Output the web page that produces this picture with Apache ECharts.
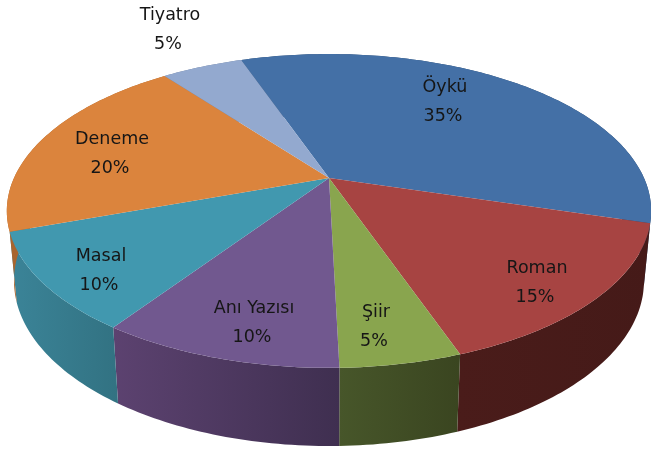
<!DOCTYPE html>
<html>
<head>
<meta charset="utf-8">
<style>html,body{margin:0;padding:0;background:#fff}#c{width:651px;height:451px}</style>
<script src="https://cdn.jsdelivr.net/npm/echarts@6/dist/echarts.min.js"></script>
</head>
<body>
<div id="c"></div>
<script>
const categories = ['Öykü', 'Roman', 'Şiir', 'Anı Yazısı', 'Masal', 'Deneme', 'Tiyatro'];
const shares = [35, 15, 5, 10, 10, 20, 5];
const topColors = ['#4470A6', '#A74442', '#89A54E', '#71588F', '#4198AF', '#DB843D', '#93A9CF'];
const wallLeft = ['#2c4a6e', '#4a1c1a', '#47562a', '#5c4270', '#3b8498', '#a8652e', '#6d7f9c'];
const wallRight = ['#2c4a6e', '#451a18', '#3a4520', '#3f2f50', '#327282', '#a8652e', '#6d7f9c'];
const labelAnchors = [[443, 116], [535, 297], [374, 341], [252, 337], [99, 285], [110, 168], [168, 44]];

const CX = 329, P = 0.21, START = -19.5;
const TOP = { a: 315, b: 150, cy: 178 };
const BASE = { a: 308, b: 158, cy: 246 };
const total = shares.reduce((s, v) => s + v, 0);

function project(disc, deg, r) {
  const t = deg * Math.PI / 180;
  const X = r * Math.sin(t), Y = -r * Math.cos(t);
  const d = 1 - P * Y;
  return [CX + disc.a * X / d, disc.cy + disc.b * Y / d];
}
function arc(disc, from, to) {
  const n = Math.max(2, Math.ceil(Math.abs(to - from)));
  const pts = [];
  for (let i = 0; i <= n; i++) pts.push(project(disc, from + (to - from) * i / n, 1));
  return pts;
}
function renderSlice(params, api) {
  const i = params.dataIndex;
  let before = 0;
  for (let k = 0; k < i; k++) before += shares[k];
  const from = START + before / total * 360;
  const to = from + api.value(0) / total * 360;
  const topArc = arc(TOP, from, to);
  const baseArc = arc(BASE, from, to);
  const wall = topArc.concat(baseArc.slice().reverse());
  const xs = wall.map(p => p[0]);
  const x0 = Math.min.apply(null, xs), x1 = Math.max.apply(null, xs);
  const a = labelAnchors[i];
  const font = '17.5px "DejaVu Sans", sans-serif';
  return {
    type: 'group',
    children: [
      { type: 'polygon', z2: 1, shape: { points: wall },
        style: { fill: new echarts.graphic.LinearGradient(x0, 0, x1, 0, [
          { offset: 0, color: wallLeft[i] }, { offset: 1, color: wallRight[i] }
        ], true) } },
      { type: 'polygon', z2: 2, shape: { points: [[CX, TOP.cy]].concat(topArc) },
        style: { fill: topColors[i] } },
      { type: 'text', z2: 3, x: a[0] + 2, y: a[1] - 29,
        style: { text: categories[i], font: font, fill: '#161616', align: 'center', verticalAlign: 'middle' } },
      { type: 'text', z2: 3, x: a[0], y: a[1],
        style: { text: api.value(0) + '%', font: font, fill: '#161616', align: 'center', verticalAlign: 'middle' } }
    ]
  };
}
const chart = echarts.init(document.getElementById('c'), null, { renderer: 'canvas' });
chart.setOption({
  animation: false,
  backgroundColor: '#fff',
  series: [{ type: 'custom', coordinateSystem: 'none', silent: true, clip: false,
    renderItem: renderSlice, data: shares.map(v => [v]) }]
});
</script>
</body>
</html>
